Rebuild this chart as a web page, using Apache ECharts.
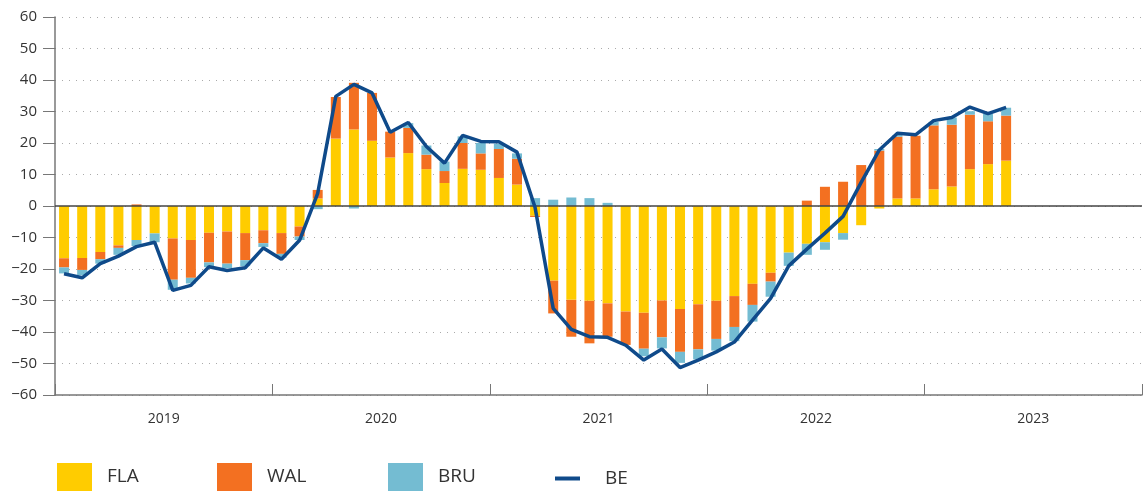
<!DOCTYPE html>
<html>
<head>
<meta charset="utf-8">
<script src="https://cdn.jsdelivr.net/npm/echarts@6/dist/echarts.min.js"></script>
<style>
  html, body { margin: 0; padding: 0; background: #fff; }
  #chart { width: 1147px; height: 494px; }
</style>
</head>
<body>
<div id="chart"></div>
<script>
var years = ["2019", "2020", "2021", "2022", "2023"];

// monthly values, Jan 2019 .. May 2023
var fla = [
  -16.6, -16.5, -14.6, -12.5, -10.8, -8.7, -10.3, -10.8, -8.5, -8.1, -8.6, -7.7,
  -8.6, -6.5, 2.4, 21.4, 24.3, 20.7, 15.4, 16.8, 11.7, 7.3, 11.8, 11.5,
  8.9, 6.8, -3.1, -23.7, -29.8, -30.1, -30.9, -33.5, -33.9, -30.0, -32.7, -31.2,
  -30.1, -28.6, -24.7, -21.2, -14.8, -12.0, -11.5, -8.6, -6.1, -0.8, 2.4, 2.4,
  5.3, 6.2, 11.7, 13.3, 14.4
];
var wal = [
  -2.9, -3.8, -2.3, -0.8, 0.5, 0, -13.1, -12.0, -9.4, -10.2, -8.6, -4.1,
  -6.6, -3.2, 2.7, 13.2, 14.8, 15.2, 8.2, 8.0, 4.6, 3.8, 8.2, 5.2,
  9.2, 8.2, -0.4, -10.4, -11.7, -13.5, -10.6, -10.6, -11.4, -11.7, -13.6, -14.3,
  -12.1, -9.8, -6.7, -2.8, 0, 1.7, 6.1, 7.7, 13.0, 17.6, 19.6, 19.9,
  20.3, 19.6, 17.3, 13.6, 14.3
];
var bru = [
  -1.9, -1.7, -1.4, -2.2, -1.9, -2.8, -3.2, -1.8, -1.5, -1.4, -1.9, -1.2,
  -1.2, -1.1, -1.0, 0, -0.8, 0, 0, 1.5, 2.9, 3.0, 2.1, 3.3,
  1.7, 1.7, 2.5, 2.0, 2.7, 2.5, 1.0, 0, -2.4, -3.5, -3.5, -3.2,
  -3.7, -4.5, -5.3, -4.8, -4.2, -3.5, -2.4, -2.1, 0, 0.5, 0.5, 0,
  1.1, 2.3, 1.1, 2.3, 2.5
];
var be = [
  -21.5, -22.8, -18.3, -15.9, -12.9, -11.5, -26.8, -25.2, -19.3, -20.5, -19.6, -13.3,
  -16.9, -10.9, 4.0, 34.8, 38.6, 35.9, 23.4, 26.5, 18.9, 13.6, 22.4, 20.5,
  20.4, 17.1, -0.5, -32.5, -39.2, -41.5, -41.7, -44.2, -48.9, -45.4, -51.3, -48.9,
  -46.3, -43.2, -36.2, -29.3, -19.0, -13.7, -8.6, -3.3, 7.5, 17.8, 23.1, 22.6,
  27.1, 28.1, 31.4, 29.3, 31.3
];

var months = [];
years.forEach(function (y) {
  for (var m = 1; m <= 12; m++) months.push(y + "-" + m);
});

var font = "Open Sans";
var chart = echarts.init(document.getElementById("chart"));

function barSeries(name, data, color) {
  return {
    name: name,
    type: "bar",
    stack: "regions",
    barWidth: 10,
    xAxisIndex: 0,
    itemStyle: { color: color },
    data: data
  };
}

// one legend box per entry so each sits where the original puts it
function legendBox(name, left, top, w, h, gap) {
  return {
    data: [name],
    left: left,
    top: top,
    icon: "rect",
    itemWidth: w,
    itemHeight: h,
    textStyle: { fontSize: 19, color: "#333", fontFamily: font, padding: [0, 0, 0, gap] }
  };
}

chart.setOption({
  animation: false,
  textStyle: { fontFamily: font },
  grid: { left: 55, right: 5, top: 17, bottom: 99 },
  legend: [
    legendBox("FLA", 52, 458, 35, 28, 10),
    legendBox("WAL", 212, 458, 35, 28, 10),
    legendBox("BRU", 383, 458, 35, 28, 10),
    legendBox("BE", 550, 464, 25, 4, 20)
  ],
  xAxis: [
    {
      type: "category",
      data: months,
      position: "top",
      show: false
    },
    {
      type: "category",
      data: years,
      position: "bottom",
      axisLine: { show: true, lineStyle: { color: "#777", width: 1.5 } },
      axisTick: { show: true, inside: true, interval: 0, alignWithLabel: false, length: 11, lineStyle: { color: "#777", width: 1 } },
      axisLabel: { color: "#333", fontSize: 14, margin: 17, fontFamily: font },
      splitLine: { show: false }
    }
  ],
  yAxis: {
    type: "value",
    min: -60,
    max: 60,
    interval: 10,
    axisLine: { show: true, lineStyle: { color: "#777", width: 1.5 } },
    axisTick: { show: true, length: 12, lineStyle: { color: "#777" } },
    axisLabel: {
      color: "#333",
      fontSize: 15,
      margin: 18,
      fontFamily: font,
      formatter: function (v) { return String(v).replace("-", "\u2212"); }
    },
    splitLine: { lineStyle: { color: "#aaa", type: [1, 6], width: 1 } }
  },
  series: [
    barSeries("FLA", fla, "#FFCC00"),
    barSeries("WAL", wal, "#F37021"),
    barSeries("BRU", bru, "#74BCD2"),
    {
      name: "BE",
      type: "line",
      xAxisIndex: 0,
      data: be,
      symbol: "none",
      z: 5,
      lineStyle: { color: "#0F4A8A", width: 3.5 },
      itemStyle: { color: "#0F4A8A" },
      markLine: {
        silent: true,
        symbol: "none",
        label: { show: false },
        lineStyle: { color: "#444", type: "solid", width: 1.5 },
        data: [{ yAxis: 0 }]
      }
    }
  ]
});
</script>
</body>
</html>
